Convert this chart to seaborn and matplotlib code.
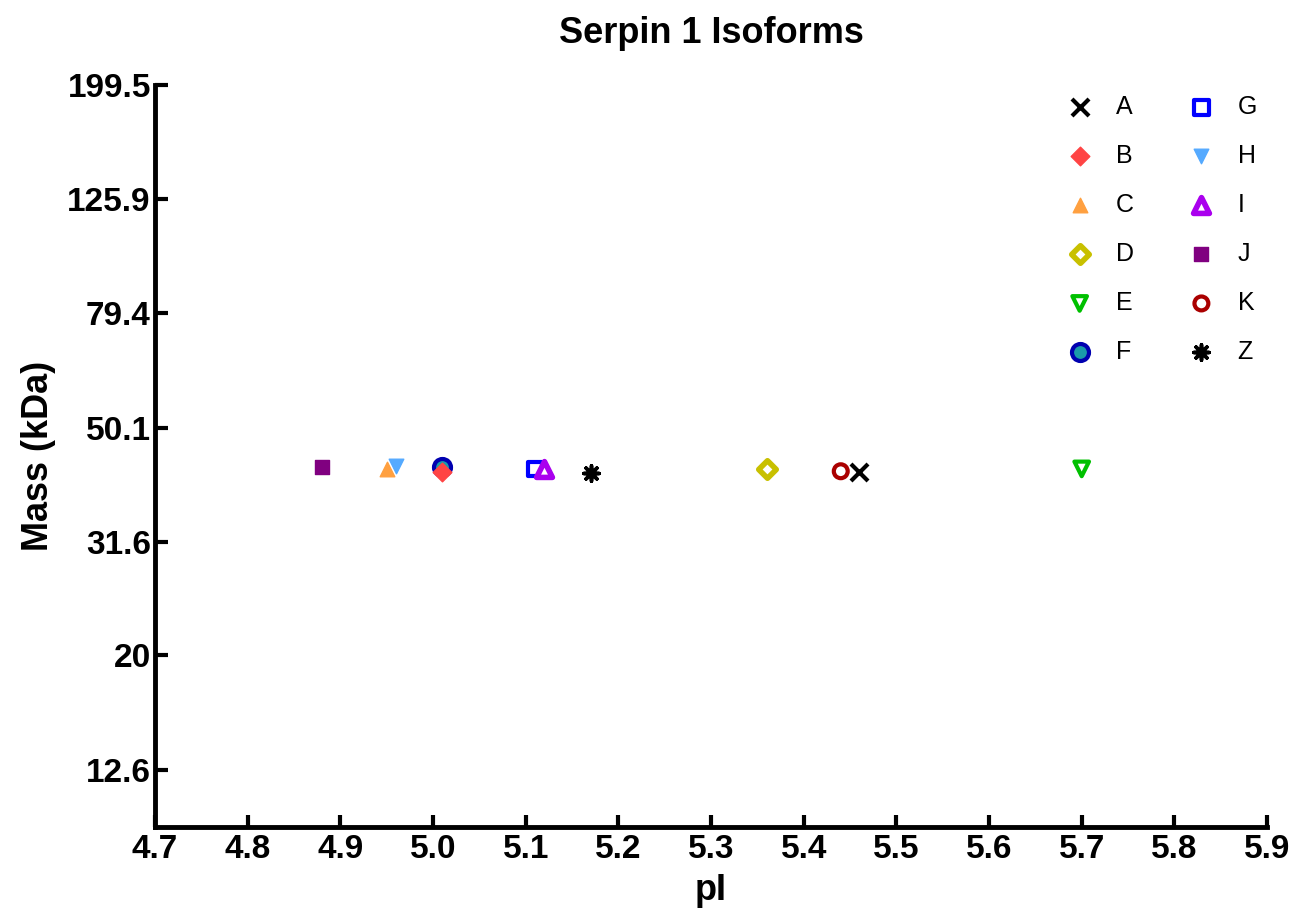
import matplotlib
matplotlib.use("Agg")
import matplotlib.pyplot as plt
import seaborn as sns

# Isoform spots: isoelectric point and apparent mass
isoforms = ["A", "B", "C", "D", "E", "F", "G", "H", "I", "J", "K", "Z"]
pi_values = [5.46, 5.01, 4.95, 5.36, 5.70, 5.01, 5.11, 4.96, 5.12, 4.88, 5.44, 5.17]
mass_kda = [41.8, 41.9, 42.3, 42.4, 42.4, 42.8, 42.4, 42.9, 42.4, 42.7, 42.0, 41.7]

x_ticks = [4.7, 4.8, 4.9, 5.0, 5.1, 5.2, 5.3, 5.4, 5.5, 5.6, 5.7, 5.8, 5.9]
x_tick_labels = ["4.7", "4.8", "4.9", "5.0", "5.1", "5.2", "5.3", "5.4", "5.5", "5.6", "5.7", "5.8", "5.9"]
y_ticks = [12.6, 20, 31.6, 50.1, 79.4, 125.9, 199.5]
y_tick_labels = ["12.6", "20", "31.6", "50.1", "79.4", "125.9", "199.5"]

# marker, face colour, edge colour, edge width, size, zorder
styles = {
    "A": ("x", "black", "black", 3.0, 150, 3),
    "B": ("D", "#FF4444", "#FF4444", 1.0, 90, 5),
    "C": ("^", "#FFA040", "#FFA040", 1.0, 110, 3),
    "D": ("D", "white", "#C8C000", 4.0, 80, 3),
    "E": ("v", "none", "#00C000", 3.0, 110, 3),
    "F": ("o", "#1A9AAA", "#0000B0", 3.0, 150, 4),
    "G": ("s", "none", "#0000FF", 3.0, 110, 3),
    "H": ("v", "#55AAFF", "#55AAFF", 1.0, 110, 3),
    "I": ("^", "white", "#AA00EE", 4.0, 130, 4),
    "J": ("s", "#800080", "#800080", 1.0, 110, 3),
    "K": ("o", "none", "#AA0000", 3.0, 100, 3),
    "Z": ((8, 2, 0), "black", "black", 2.6, 120, 3),
}

sns.set_theme(style="ticks")
plt.rcParams["font.family"] = ["Liberation Sans", "DejaVu Sans"]
plt.rcParams["text.color"] = "black"
plt.rcParams["axes.labelcolor"] = "black"

fig = plt.figure(figsize=(12.95, 9.14), dpi=100)
ax = fig.add_axes([0.1197, 0.0952, 0.8587, 0.8118])

for name, px, mass in zip(isoforms, pi_values, mass_kda):
    marker, face, edge, lw, size, z = styles[name]
    sns.scatterplot(x=[px], y=[mass], marker=marker, s=size,
                    facecolor=face, edgecolor=edge, linewidth=lw,
                    label=name, zorder=z, ax=ax, clip_on=False)

ax.set_yscale("log")
ax.set_xlim(4.7, 5.9)
ax.set_ylim(10, 199.5)
ax.set_xticks(x_ticks)
ax.set_xticklabels(x_tick_labels)
ax.set_yticks(y_ticks)
ax.set_yticklabels(y_tick_labels)
ax.minorticks_off()

for side in ("top", "right"):
    ax.spines[side].set_visible(False)
for side in ("left", "bottom"):
    ax.spines[side].set_linewidth(3.5)
    ax.spines[side].set_color("black")

ax.tick_params(axis="both", direction="in", length=9, width=3,
               labelsize=24, colors="black")
ax.tick_params(axis="x", pad=5)
ax.tick_params(axis="y", pad=3)
for lab in ax.get_xticklabels() + ax.get_yticklabels():
    lab.set_fontweight("bold")

ax.set_xlabel("pI", fontsize=26, fontweight="bold", labelpad=6, color="black")
ax.set_ylabel("Mass (kDa)", fontsize=26, fontweight="bold", labelpad=8, color="black")
ax.set_title("Serpin 1 Isoforms", fontsize=26, fontweight="bold", pad=30, color="black")

leg = ax.legend(ncol=2, loc="upper right", bbox_to_anchor=(1.0, 1.0), frameon=False,
                fontsize=18, handlelength=1.0, handletextpad=0.95, columnspacing=2.2,
                labelspacing=1.0, borderaxespad=0.0)
for t in leg.get_texts():
    t.set_color("black")

fig.savefig("out.png", dpi=100, facecolor="white")
